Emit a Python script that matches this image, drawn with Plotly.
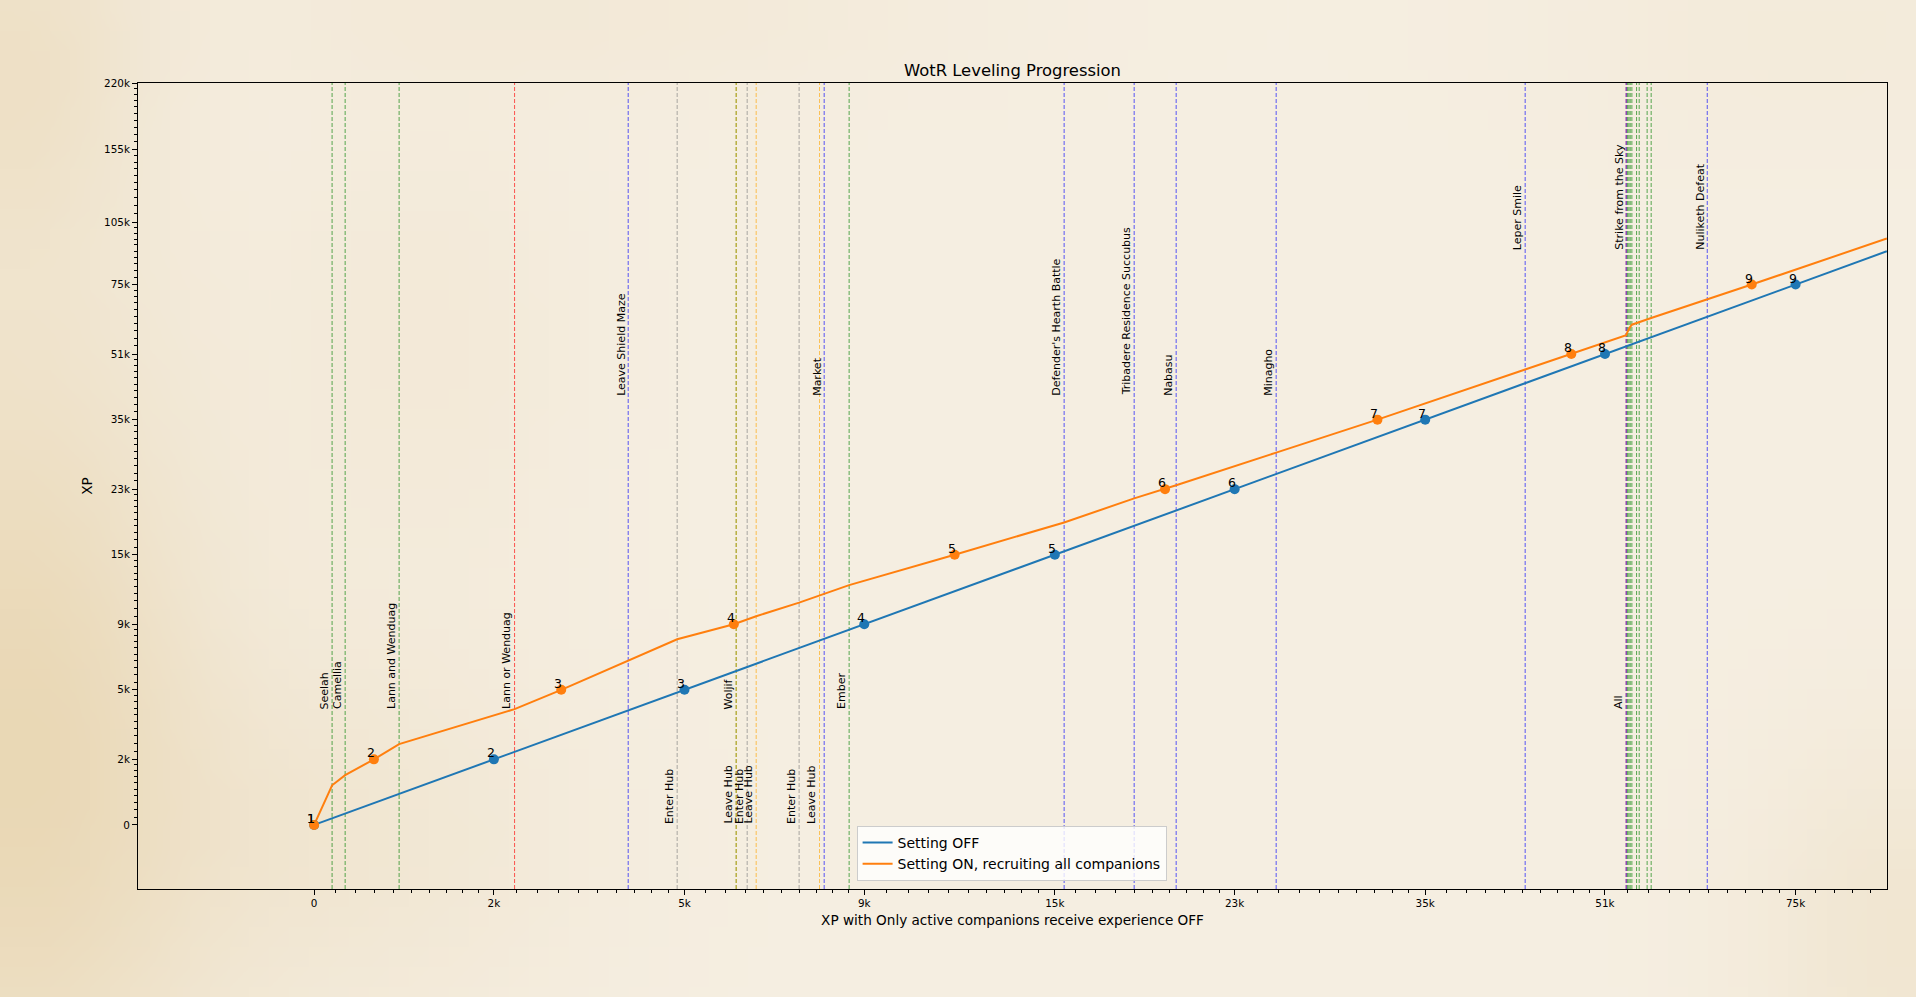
import zlib
import struct
import base64
import numpy as np
import plotly.graph_objects as go

# ---------------------------------------------------------------- data
# axis scale used by the chart: log10(XP + OFFSET)
OFFSET = 5000

LEVELS = [1, 2, 3, 4, 5, 6, 7, 8, 9]
LEVEL_XP = [0, 2000, 5000, 9000, 15000, 23000, 35000, 51000, 75000]

THRESHOLDS = [0, 2000, 5000, 9000, 15000, 23000, 35000, 51000, 75000,
              105000, 155000, 220000]
TICK_TEXT = ['0', '2k', '5k', '9k', '15k', '23k', '35k', '51k', '75k',
             '105k', '155k', '220k']

# Setting OFF (identity: XP with setting OFF vs itself)
OFF_X = [0, 2000, 5000, 9000, 15000, 23000, 35000, 51000, 75000, 89900]
OFF_Y = [0, 2000, 5000, 9000, 15000, 23000, 35000, 51000, 75000, 89900]
OFF_LEVEL_X = [0, 2000, 5000, 9000, 15000, 23000, 35000, 51000, 75000]

# Setting ON, recruiting all companions
ON_X = [0, 171, 299, 592, 862, 2276, 2940, 4000, 4864, 5967, 6436, 7393,
        7876, 8609, 11580, 15351, 18201, 19580, 20098, 25263, 31580, 43229,
        47580, 53266, 53420, 53563, 53706, 53890, 54409, 54701, 55596,
        56054, 68700, 89900]
ON_Y = [0, 1127, 1453, 2000, 2570, 4055, 5000, 6646, 7965, 9000, 9589,
        10645, 11250, 12116, 15000, 18600, 21700, 23000, 23560, 28780,
        35000, 46750, 51000, 56700, 57800, 58700, 59400, 60100, 60700,
        61000, 61900, 62360, 75000, 96300]
ON_LEVEL_X = [0, 592, 2940, 5967, 11580, 19580, 31580, 47580, 68700]

# Events (vertical dashed lines)
EVENT_XP = [171, 299, 862, 2276, 4000, 4864, 6016, 6016, 6245, 6436, 7393,
            7876, 7988, 8609, 15351, 18201, 20098, 25263, 43229, 53266,
            53266, 53420, 53563, 53706, 53890, 54409, 54701, 55596, 56054,
            62811]
EVENT_LABEL = ['Seelah', 'Camellia', 'Lann and Wenduag', 'Lann or Wenduag',
               'Leave Shield Maze', 'Enter Hub', 'Woljif', 'Leave Hub',
               'Enter Hub', 'Leave Hub', 'Enter Hub', 'Leave Hub', 'Market',
               'Ember', "Defender's Hearth Battle",
               'Tribadere Residence Succubus', 'Nabasu', 'Minagho',
               'Leper Smile', 'All', 'Strike from the Sky',
               '', '', '', '', '', '', '', '', 'Nuliketh Defeat']
EVENT_KIND = ['companion', 'companion', 'companion', 'choice', 'story',
              'hub_in', 'companion', 'hub_out', 'hub_in', 'hub_out',
              'hub_in', 'hub_out', 'story', 'companion', 'story', 'story',
              'story', 'story', 'story', 'choice', 'story',
              'companion', 'companion', 'companion', 'companion',
              'companion', 'companion', 'companion', 'companion', 'story']
EVENT_LABEL_Y = [4000, 4000, 4000, 4000, 40000, 0, 4000, 0, 0, 0, 0, 0,
                 40000, 4000, 40000, 40000, 40000, 40000, 90000, 4000,
                 90000, 4000, 4000, 4000, 4000, 4000, 4000, 4000, 4000,
                 90000]

# axis limits (XP)
X_MIN, X_MAX = -1404, 89930
Y_MIN, Y_MAX = -1401, 220000

# ---------------------------------------------------------------- styles
BLUE = '#1f77b4'
ORANGE = '#ff7f0e'
KIND_COLOR = {'companion': 'green', 'choice': 'red', 'story': 'blue',
              'hub_in': 'gray', 'hub_out': 'orange'}
FONT = 'DejaVu Sans'
W, H = 1916, 997
ML, MR, MT, MB = 138, 29, 83, 108


def t(v):
    return np.asarray(v, dtype=float) + OFFSET


def lg(v):
    return float(np.log10(v + OFFSET))


def minor_vals(lo, hi):
    out = []
    for a, b in zip(THRESHOLDS[:-1], THRESHOLDS[1:]):
        for k in range(1, 10):
            m = a + (b - a) * k / 10
            if lo < m < hi:
                out.append(m + OFFSET)
    return out


# ---------------------------------------------------------------- background
def png_data_uri(arr):
    h, w, _ = arr.shape
    raw = b''.join(b'\x00' + arr[i].tobytes() for i in range(h))

    def chunk(tag, data):
        c = struct.pack('>I', len(data)) + tag + data
        return c + struct.pack('>I', zlib.crc32(tag + data) & 0xffffffff)

    png = (b'\x89PNG\r\n\x1a\n'
           + chunk(b'IHDR', struct.pack('>IIBBBBB', w, h, 8, 2, 0, 0, 0))
           + chunk(b'IDAT', zlib.compress(raw, 9))
           + chunk(b'IEND', b''))
    return 'data:image/png;base64,' + base64.b64encode(png).decode()


gh, gw = 50, 96
yy, xx = np.mgrid[0:gh, 0:gw]
u = xx / (gw - 1)
v = yy / (gh - 1)


def blob(cx, cy, sx, sy, a):
    return a * np.exp(-(((u - cx) / sx) ** 2 + ((v - cy) / sy) ** 2))


dark = (blob(0.0, 0.75, 0.10, 0.45, 0.95) + blob(0.0, 0.05, 0.07, 0.2, 0.5)
        + blob(0.18, 0.85, 0.12, 0.2, 0.3) + blob(0.22, 0.35, 0.08, 0.25, 0.2)
        + blob(1.0, 0.95, 0.08, 0.2, 0.35) + blob(0.3, 0.0, 0.2, 0.08, 0.2)
        + blob(0.95, 0.02, 0.15, 0.1, 0.15))
dark = np.clip(dark, 0, 1)[..., None]
light_c = np.array([245, 238, 225], dtype=float)
dark_c = np.array([233, 215, 180], dtype=float)
bg = (light_c * (1 - dark) + dark_c * dark).round().astype(np.uint8)
BG_URI = png_data_uri(bg)

# ---------------------------------------------------------------- figure
fig = go.Figure()

ylo, yhi = Y_MIN, Y_MAX
for xp, kind in zip(EVENT_XP, EVENT_KIND):
    fig.add_trace(go.Scatter(
        x=t([xp, xp]), y=t([ylo, yhi]), mode='lines',
        line=dict(color=KIND_COLOR[kind], width=0.9, dash='4px,2px'),
        opacity=0.72, hoverinfo='skip', showlegend=False))

fig.add_trace(go.Scatter(x=t(OFF_X), y=t(OFF_Y), mode='lines',
                         line=dict(color=BLUE, width=2),
                         name='Setting OFF'))
fig.add_trace(go.Scatter(x=t(ON_X), y=t(ON_Y), mode='lines',
                         line=dict(color=ORANGE, width=2),
                         name='Setting ON, recruiting all companions'))
fig.add_trace(go.Scatter(x=t(OFF_LEVEL_X), y=t(LEVEL_XP), mode='markers',
                         marker=dict(color=BLUE, size=10), showlegend=False))
fig.add_trace(go.Scatter(x=t(ON_LEVEL_X), y=t(LEVEL_XP), mode='markers',
                         marker=dict(color=ORANGE, size=10), showlegend=False))

annotations = []
for xs in (OFF_LEVEL_X, ON_LEVEL_X):
    for lvl, xv, yv in zip(LEVELS, xs, LEVEL_XP):
        annotations.append(dict(
            x=lg(xv), y=lg(yv), xref='x', yref='y', text=str(lvl),
            showarrow=False, xanchor='right', yanchor='bottom',
            xshift=2, yshift=-2, borderpad=0,
            font=dict(family=FONT, size=12.5, color='black')))

for xp, lab, ly in zip(EVENT_XP, EVENT_LABEL, EVENT_LABEL_Y):
    if not lab:
        continue
    annotations.append(dict(
        x=lg(xp), y=lg(ly), xref='x', yref='y', text=lab, textangle=-90,
        showarrow=False, xanchor='right', yanchor='bottom', borderpad=0,
        font=dict(family=FONT, size=11, color='black')))

plot_w = W - ML - MR
plot_h = H - MT - MB

fig.update_layout(
    width=W, height=H, autosize=False,
    margin=dict(l=ML, r=MR, t=MT, b=MB, pad=0),
    paper_bgcolor='#f3ebdc', plot_bgcolor='rgba(0,0,0,0)',
    font=dict(family=FONT, color='black'),
    title=dict(text='WotR Leveling Progression', x=0.5, xref='paper',
               xanchor='center', y=1 - 70 / H, yref='container',
               yanchor='middle', font=dict(size=16.4, color='black')),
    xaxis=dict(
        type='log', range=[lg(X_MIN), lg(X_MAX)],
        tickmode='array', tickvals=list(t(THRESHOLDS)), ticktext=TICK_TEXT,
        ticks='outside', ticklen=5, tickwidth=1, tickcolor='black',
        showline=True, linecolor='black', linewidth=1, mirror=True,
        showgrid=False, zeroline=False,
        tickfont=dict(size=10.4, color='black', family=FONT),
        title=dict(text='XP with Only active companions receive experience OFF',
                   font=dict(size=13.6, color='black', family=FONT),
                   standoff=6),
        minor=dict(tickmode='array', tickvals=minor_vals(X_MIN, X_MAX),
                   ticks='outside', ticklen=3, tickwidth=1,
                   tickcolor='black', showgrid=False)),
    yaxis=dict(
        type='log', range=[lg(Y_MIN), lg(Y_MAX)],
        tickmode='array', tickvals=list(t(THRESHOLDS)), ticktext=TICK_TEXT,
        ticks='outside', ticklen=5, tickwidth=1, tickcolor='black',
        showline=True, linecolor='black', linewidth=1, mirror=True,
        showgrid=False, zeroline=False,
        tickfont=dict(size=10.4, color='black', family=FONT),
        title=dict(text='XP', font=dict(size=13.6, color='black', family=FONT),
                   standoff=8),
        minor=dict(tickmode='array', tickvals=minor_vals(Y_MIN, Y_MAX),
                   ticks='outside', ticklen=3, tickwidth=1,
                   tickcolor='black', showgrid=False)),
    legend=dict(x=(856.6 - ML) / plot_w, y=(H - MB - 881) / plot_h,
                xanchor='left', yanchor='bottom',
                bgcolor='rgba(255,255,255,0.8)', bordercolor='#cccccc',
                borderwidth=1, tracegroupgap=0,
                font=dict(size=14, color='black', family=FONT)),
    annotations=annotations,
    images=[dict(source=BG_URI, xref='paper', yref='paper',
                 x=-ML / plot_w, y=1 + MT / plot_h,
                 sizex=W / plot_w, sizey=H / plot_h,
                 xanchor='left', yanchor='top', sizing='stretch',
                 layer='below')],
    showlegend=True,
)

fig.write_html('out.html')
